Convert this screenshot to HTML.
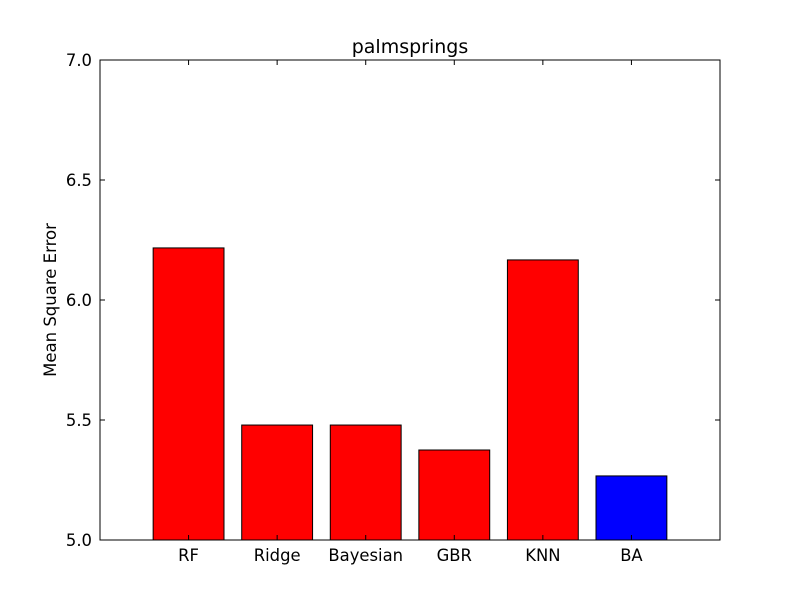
<!DOCTYPE html>
<html><head><meta charset="utf-8"><style>body{margin:0;background:#fff}svg{display:block;font-family:"DejaVu Sans","Liberation Sans",sans-serif}</style></head>
<body>
<svg id="chart" width="800" height="600">
<rect width="800" height="600" fill="#fff"/>
<g id="bars"></g>
<rect x="100" y="60" width="620" height="480" fill="none" stroke="#000" stroke-width="1"/>
<g id="ticks"></g>
<text x="410" y="53" font-size="19" text-anchor="middle">palmsprings</text>
<text transform="translate(56,300) rotate(-90)" font-size="16.5" text-anchor="middle">Mean Square Error</text>
</svg>
<script>
const categories=["RF","Ridge","Bayesian","GBR","KNN","BA"];
const values=[6.217,5.479,5.479,5.375,6.167,5.267];
const colors=["#ff0000","#ff0000","#ff0000","#ff0000","#ff0000","#0000ff"];
const yTicks=[5.0,5.5,6.0,6.5,7.0];
const yTickLabels=["5.0","5.5","6.0","6.5","7.0"];
const L=100,R=720,T=60,B=540,yMin=5,yMax=7,xMin=0,xMax=7;
const ns="http://www.w3.org/2000/svg";
const y=v=>B-(v-yMin)/(yMax-yMin)*(B-T);
const x=v=>L+(v-xMin)/(xMax-xMin)*(R-L);
const bw=(x(0.8)-x(0));
const bars=document.getElementById('bars'),ticks=document.getElementById('ticks');
categories.forEach((c,i)=>{
 const r=document.createElementNS(ns,'rect');
 const cx=x(i+1);
 r.setAttribute('x',cx-bw/2);r.setAttribute('y',y(values[i]));
 r.setAttribute('width',bw);r.setAttribute('height',B-y(values[i]));
 r.setAttribute('fill',colors[i]);r.setAttribute('stroke','#000');
 
 
 bars.appendChild(r);
 const t=document.createElementNS(ns,'text');
 t.setAttribute('x',cx);t.setAttribute('y',B+21);t.setAttribute('font-size','16.4');t.setAttribute('text-anchor','middle');
 t.textContent=c;
 
 
 ticks.appendChild(t);
 const l=document.createElementNS(ns,'line');
 l.setAttribute('x1',cx);l.setAttribute('x2',cx);l.setAttribute('y1',B);l.setAttribute('y2',B-5);l.setAttribute('stroke','#000');
 
 
 ticks.appendChild(l);
 const l2=document.createElementNS(ns,'line');
 l2.setAttribute('x1',cx);l2.setAttribute('x2',cx);l2.setAttribute('y1',T);l2.setAttribute('y2',T+5);l2.setAttribute('stroke','#000');
 
 
 ticks.appendChild(l2);
});
yTicks.forEach((v,i)=>{
 const yy=y(v);
 const t=document.createElementNS(ns,'text');
 t.setAttribute('x',L-8);t.setAttribute('y',yy+6);t.setAttribute('font-size','16.4');t.setAttribute('text-anchor','end');
 t.textContent=yTickLabels[i];
 
 
 ticks.appendChild(t);
 [[L,L+5],[R,R-5]].forEach(([a,b])=>{
  const l=document.createElementNS(ns,'line');
  l.setAttribute('x1',a);l.setAttribute('x2',b);l.setAttribute('y1',yy);l.setAttribute('y2',yy);l.setAttribute('stroke','#000');
  
  
  ticks.appendChild(l);
 });
});
</script>
</body></html>
